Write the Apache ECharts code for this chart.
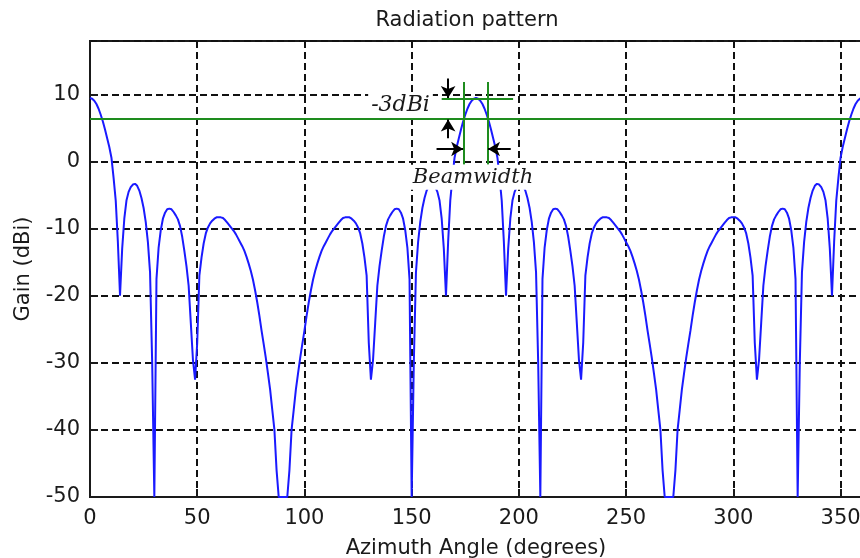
<!DOCTYPE html>
<html><head><meta charset="utf-8">
<script src="https://cdn.jsdelivr.net/npm/echarts/dist/echarts.min.js"></script>
<style>html,body{margin:0;padding:0;background:#fff}#c{width:860px;height:558px}</style>
</head><body><div id="c"></div>
<script>
// Azimuth angles (degrees)
const angleQ1 = [0,1,2,3,4,5,6,7,8,9,10,11,12,13,14,15,16,17,18,19,20,21,22,23,24,25,26,27,28,29,30,31,32,33,34,35,36,37,38,39,40,41,42,43,44,45,46,47,48,49,50,51,52,53,54,55,56,57,58,59,60,61,62,63,64,65,66,67,68,69,70,71,72,73,74,75,76,77,78,79,80,81,82,83,84,85,86,87,88,89,90];
const angleQ2 = [91,92,93,94,95,96,97,98,99,100,101,102,103,104,105,106,107,108,109,110,111,112,113,114,115,116,117,118,119,120,121,122,123,124,125,126,127,128,129,130,131,132,133,134,135,136,137,138,139,140,141,142,143,144,145,146,147,148,149,150,151,152,153,154,155,156,157,158,159,160,161,162,163,164,165,166,167,168,169,170,171,172,173,174,175,176,177,178,179,180];
const angleQ3 = [181,182,183,184,185,186,187,188,189,190,191,192,193,194,195,196,197,198,199,200,201,202,203,204,205,206,207,208,209,210,211,212,213,214,215,216,217,218,219,220,221,222,223,224,225,226,227,228,229,230,231,232,233,234,235,236,237,238,239,240,241,242,243,244,245,246,247,248,249,250,251,252,253,254,255,256,257,258,259,260,261,262,263,264,265,266,267,268,269,270];
const angleQ4 = [271,272,273,274,275,276,277,278,279,280,281,282,283,284,285,286,287,288,289,290,291,292,293,294,295,296,297,298,299,300,301,302,303,304,305,306,307,308,309,310,311,312,313,314,315,316,317,318,319,320,321,322,323,324,325,326,327,328,329,330,331,332,333,334,335,336,337,338,339,340,341,342,343,344,345,346,347,348,349,350,351,352,353,354,355,356,357,358,359,360];

// Gain (dBi)
const gainQ1 = [9.5,
 9.4, 9.1, 8.6, 7.9, 7.0, 6.0, 4.8, 3.5, 2.2, 0.6,
 -2.4, -5.8, -12.0, -20.0, -13.0, -8.5, -5.8, -4.5, -3.8, -3.4,
 -3.3, -3.6, -4.3, -5.4, -6.9, -9.0, -12.0, -16.5, -30.0, -50.0,
 -17.5, -12.8, -10.2, -8.5, -7.6, -7.1, -7.0, -7.1, -7.5, -8.0,
 -8.6, -9.6, -11.2, -13.3, -15.6, -18.5, -24.0, -29.5, -32.5, -27.0,
 -17.0, -14.3, -12.2, -10.7, -9.8, -9.2, -8.8, -8.5, -8.3, -8.3,
 -8.3, -8.4, -8.7, -9.1, -9.5, -9.9, -10.3, -10.8, -11.4, -12.0,
 -12.6, -13.3, -14.2, -15.2, -16.3, -17.6, -19.2, -21.0, -23.0, -25.2,
 -27.2, -29.3, -31.6, -34.0, -37.0, -40.0, -46.0, -50.0, -50.0, -50.0];
const gainQ2 = [
 -50.0, -50.0, -46.0, -40.0, -37.0, -34.0, -31.6, -29.3, -27.2, -25.2,
 -23.0, -21.0, -19.2, -17.6, -16.3, -15.2, -14.2, -13.3, -12.6, -12.0,
 -11.4, -10.8, -10.3, -9.9, -9.5, -9.1, -8.7, -8.4, -8.3, -8.3,
 -8.3, -8.5, -8.8, -9.2, -9.8, -10.7, -12.2, -14.3, -17.0, -27.0,
 -32.5, -29.5, -24.0, -18.5, -15.6, -13.3, -11.2, -9.6, -8.6, -8.0,
 -7.5, -7.1, -7.0, -7.1, -7.6, -8.5, -10.2, -12.8, -17.5, -50.0,
 -30.0, -16.5, -12.0, -9.0, -6.9, -5.4, -4.3, -3.6, -3.3, -3.4,
 -3.8, -4.5, -5.8, -8.5, -13.0, -20.0, -12.0, -5.8, -2.4, 0.6,
 2.2, 3.5, 4.8, 6.0, 7.0, 7.9, 8.6, 9.1, 9.4, 9.5];
const gainQ3 = [
 9.4, 9.1, 8.6, 7.9, 7.0, 6.0, 4.8, 3.5, 2.2, 0.6,
 -2.4, -5.8, -12.0, -20.0, -13.0, -8.5, -5.8, -4.5, -3.8, -3.4,
 -3.3, -3.6, -4.3, -5.4, -6.9, -9.0, -12.0, -16.5, -30.0, -50.0,
 -17.5, -12.8, -10.2, -8.5, -7.6, -7.1, -7.0, -7.1, -7.5, -8.0,
 -8.6, -9.6, -11.2, -13.3, -15.6, -18.5, -24.0, -29.5, -32.5, -27.0,
 -17.0, -14.3, -12.2, -10.7, -9.8, -9.2, -8.8, -8.5, -8.3, -8.3,
 -8.3, -8.4, -8.7, -9.1, -9.5, -9.9, -10.3, -10.8, -11.4, -12.0,
 -12.6, -13.3, -14.2, -15.2, -16.3, -17.6, -19.2, -21.0, -23.0, -25.2,
 -27.2, -29.3, -31.6, -34.0, -37.0, -40.0, -46.0, -50.0, -50.0, -50.0];
const gainQ4 = [
 -50.0, -50.0, -46.0, -40.0, -37.0, -34.0, -31.6, -29.3, -27.2, -25.2,
 -23.0, -21.0, -19.2, -17.6, -16.3, -15.2, -14.2, -13.3, -12.6, -12.0,
 -11.4, -10.8, -10.3, -9.9, -9.5, -9.1, -8.7, -8.4, -8.3, -8.3,
 -8.3, -8.5, -8.8, -9.2, -9.8, -10.7, -12.2, -14.3, -17.0, -27.0,
 -32.5, -29.5, -24.0, -18.5, -15.6, -13.3, -11.2, -9.6, -8.6, -8.0,
 -7.5, -7.1, -7.0, -7.1, -7.6, -8.5, -10.2, -12.8, -17.5, -50.0,
 -30.0, -16.5, -12.0, -9.0, -6.9, -5.4, -4.3, -3.6, -3.3, -3.4,
 -3.8, -4.5, -5.8, -8.5, -13.0, -20.0, -12.0, -5.8, -2.4, 0.6,
 2.2, 3.5, 4.8, 6.0, 7.0, 7.9, 8.6, 9.1, 9.4, 9.5];

// Axis ranges / annotation levels
const xRange = [0, 360];
const yRange = [-50, 18];
const peakLevel = 9.4;
const halfPowerLevel = 6.4;
const beamEdges = [174.2, 185.4];

const angles = angleQ1.concat(angleQ2, angleQ3, angleQ4);
const gains = gainQ1.concat(gainQ2, gainQ3, gainQ4);
const seriesData = angles.map((a, i) => [a, gains[i]]);

const SANS = "'DejaVu Sans', 'Liberation Sans', Arial, sans-serif";
const SERIF = "'DejaVu Serif', 'Liberation Serif', serif";
const INK = '#1a1a1a';
const GREEN = '#1e8c1e';

const chart = echarts.init(document.getElementById('c'), null, {renderer: 'canvas'});

const axisCommon = {
  axisLine: {show: true, onZero: false, lineStyle: {color: INK, width: 2}},
  axisTick: {show: true, inside: true, length: 8, lineStyle: {color: INK, width: 2}},
  splitLine: {show: true, lineStyle: {color: '#111', width: 2, type: [7, 4]}},
  nameTextStyle: {fontFamily: SANS, fontSize: 21, color: INK}
};

function arrowLine(from, to) {
  return [{coord: from, symbol: 'none'}, {coord: to, symbol: 'arrow', symbolSize: [11, 12]}];
}
function plainLine(from, to) {
  return [{coord: from, symbol: 'none'}, {coord: to, symbol: 'none'}];
}

const option = {
  backgroundColor: '#ffffff',
  animation: false,
  textStyle: {fontFamily: SANS},
  title: {
    text: 'Radiation pattern', left: 462, top: 5, textAlign: 'center',
    textStyle: {fontFamily: SANS, fontSize: 21, fontWeight: 'normal', color: INK}
  },
  grid: {left: 90, top: 41, width: 772, height: 456, show: true, borderColor: INK, borderWidth: 2,
         backgroundColor: '#ffffff', containLabel: false, outerBoundsMode: 'none'},
  xAxis: Object.assign({}, axisCommon, {
    type: 'value', min: xRange[0], max: xRange[1], interval: 50,
    name: 'Azimuth Angle (degrees)', nameLocation: 'middle', nameGap: 41,
    axisLabel: {fontFamily: SANS, fontSize: 21, color: INK, margin: 11, showMaxLabel: false}
  }),
  yAxis: Object.assign({}, axisCommon, {
    type: 'value', min: yRange[0], max: yRange[1], interval: 10,
    name: 'Gain (dBi)', nameLocation: 'middle', nameGap: 56, nameRotate: 90,
    axisLabel: {fontFamily: SANS, fontSize: 21, color: INK, margin: 10, showMaxLabel: false,
      formatter: v => (v % 10 === 0 ? String(v) : '')}
  }),
  series: [
    {
      type: 'line', data: seriesData, showSymbol: false, clip: true, z: 3,
      lineStyle: {color: '#1a1aff', width: 2}
    },
    {
      type: 'line', data: [], z: 4,
      markLine: {
        silent: true, animation: false, label: {show: false}, symbol: 'none',
        lineStyle: {color: GREEN, width: 2, type: 'solid'},
        data: [
          {yAxis: halfPowerLevel, symbol: 'none'},
          plainLine([164.0, peakLevel], [197.3, peakLevel]),
          plainLine([beamEdges[0], 11.9], [beamEdges[0], -0.4]),
          plainLine([beamEdges[1], 11.9], [beamEdges[1], -0.4])
        ]
      }
    },
    {
      type: 'line', data: [], z: 5,
      markLine: {
        silent: true, animation: false, label: {show: false},
        lineStyle: {color: '#000', width: 2, type: 'solid'},
        itemStyle: {color: '#000'},
        data: [
          arrowLine([167.0, 12.4], [167.0, peakLevel + 0.1]),
          arrowLine([167.0, 3.5], [167.0, halfPowerLevel - 0.1]),
          arrowLine([161.6, 1.9], [beamEdges[0] - 0.2, 1.9]),
          arrowLine([196.2, 1.9], [beamEdges[1] + 0.2, 1.9])
        ]
      }
    }
  ]
};
chart.setOption(option);

const p1 = chart.convertToPixel({gridIndex: 0}, [144.8, 8.4]);
const p2 = chart.convertToPixel({gridIndex: 0}, [178.6, -2.3]);
chart.setOption({
  graphic: [
    {type: 'text', x: p1[0], y: p1[1], z: 10,
     style: {text: '-3dBi', font: 'italic 22px ' + SERIF, fill: INK, align: 'center', verticalAlign: 'middle',
             backgroundColor: '#fff', padding: [1, 3]}},
    {type: 'text', x: p2[0], y: p2[1], z: 10,
     style: {text: 'Beamwidth', font: 'italic 21px ' + SERIF, fill: INK, align: 'center', verticalAlign: 'middle',
             backgroundColor: '#fff', padding: [2, 2]}}
  ]
});
</script>
</body></html>
